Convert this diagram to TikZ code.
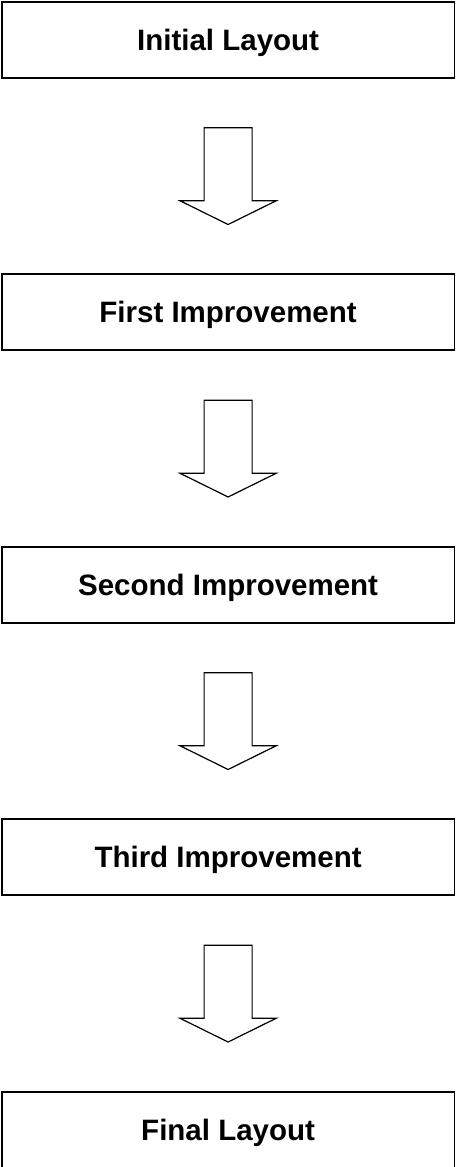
\documentclass[tikz,border=0pt]{standalone}
\usepackage{fontspec}
\setmainfont{Liberation Sans}
\usetikzlibrary{calc}
\begin{document}
\begin{tikzpicture}[x=1pt,y=1pt,
  stagebox/.style={draw=black, line width=1.6pt, fill=white, rectangle,
    minimum width=452.8pt, minimum height=76pt, inner sep=0pt,
    text height=21.1pt, text depth=0pt,
    font=\fontsize{29.5}{34}\selectfont\bfseries},
  blockarrow/.style={draw=black, line width=1.2pt, fill=white, line join=miter}]
  % page frame
  \useasboundingbox (0,0) rectangle (456,-1167);
  % stage boxes, one below the other
  \node[stagebox] (b1) at (228.1,-39.7) {Initial Layout};
  \node[stagebox] (b2) at (228.1,-312.2) {First Improvement};
  \node[stagebox] (b3) at (228.1,-584.7) {Second Improvement};
  \node[stagebox] (b4) at (228.1,-857.2) {Third Improvement};
  \node[stagebox] (b5) at (228.1,-1129.7) {Final Layout};
  % hollow block arrows between consecutive stages
  \foreach \a in {b1,b2,b3,b4}{
    \draw[blockarrow]
      ($(\a.south)+(-24,-49.3)$) -- ($(\a.south)+(24,-49.3)$)
      -- ($(\a.south)+(24,-122.3)$) -- ($(\a.south)+(48,-122.3)$)
      -- ($(\a.south)+(0,-146)$) -- ($(\a.south)+(-48,-122.3)$)
      -- ($(\a.south)+(-24,-122.3)$) -- cycle;
  }
\end{tikzpicture}
\end{document}
